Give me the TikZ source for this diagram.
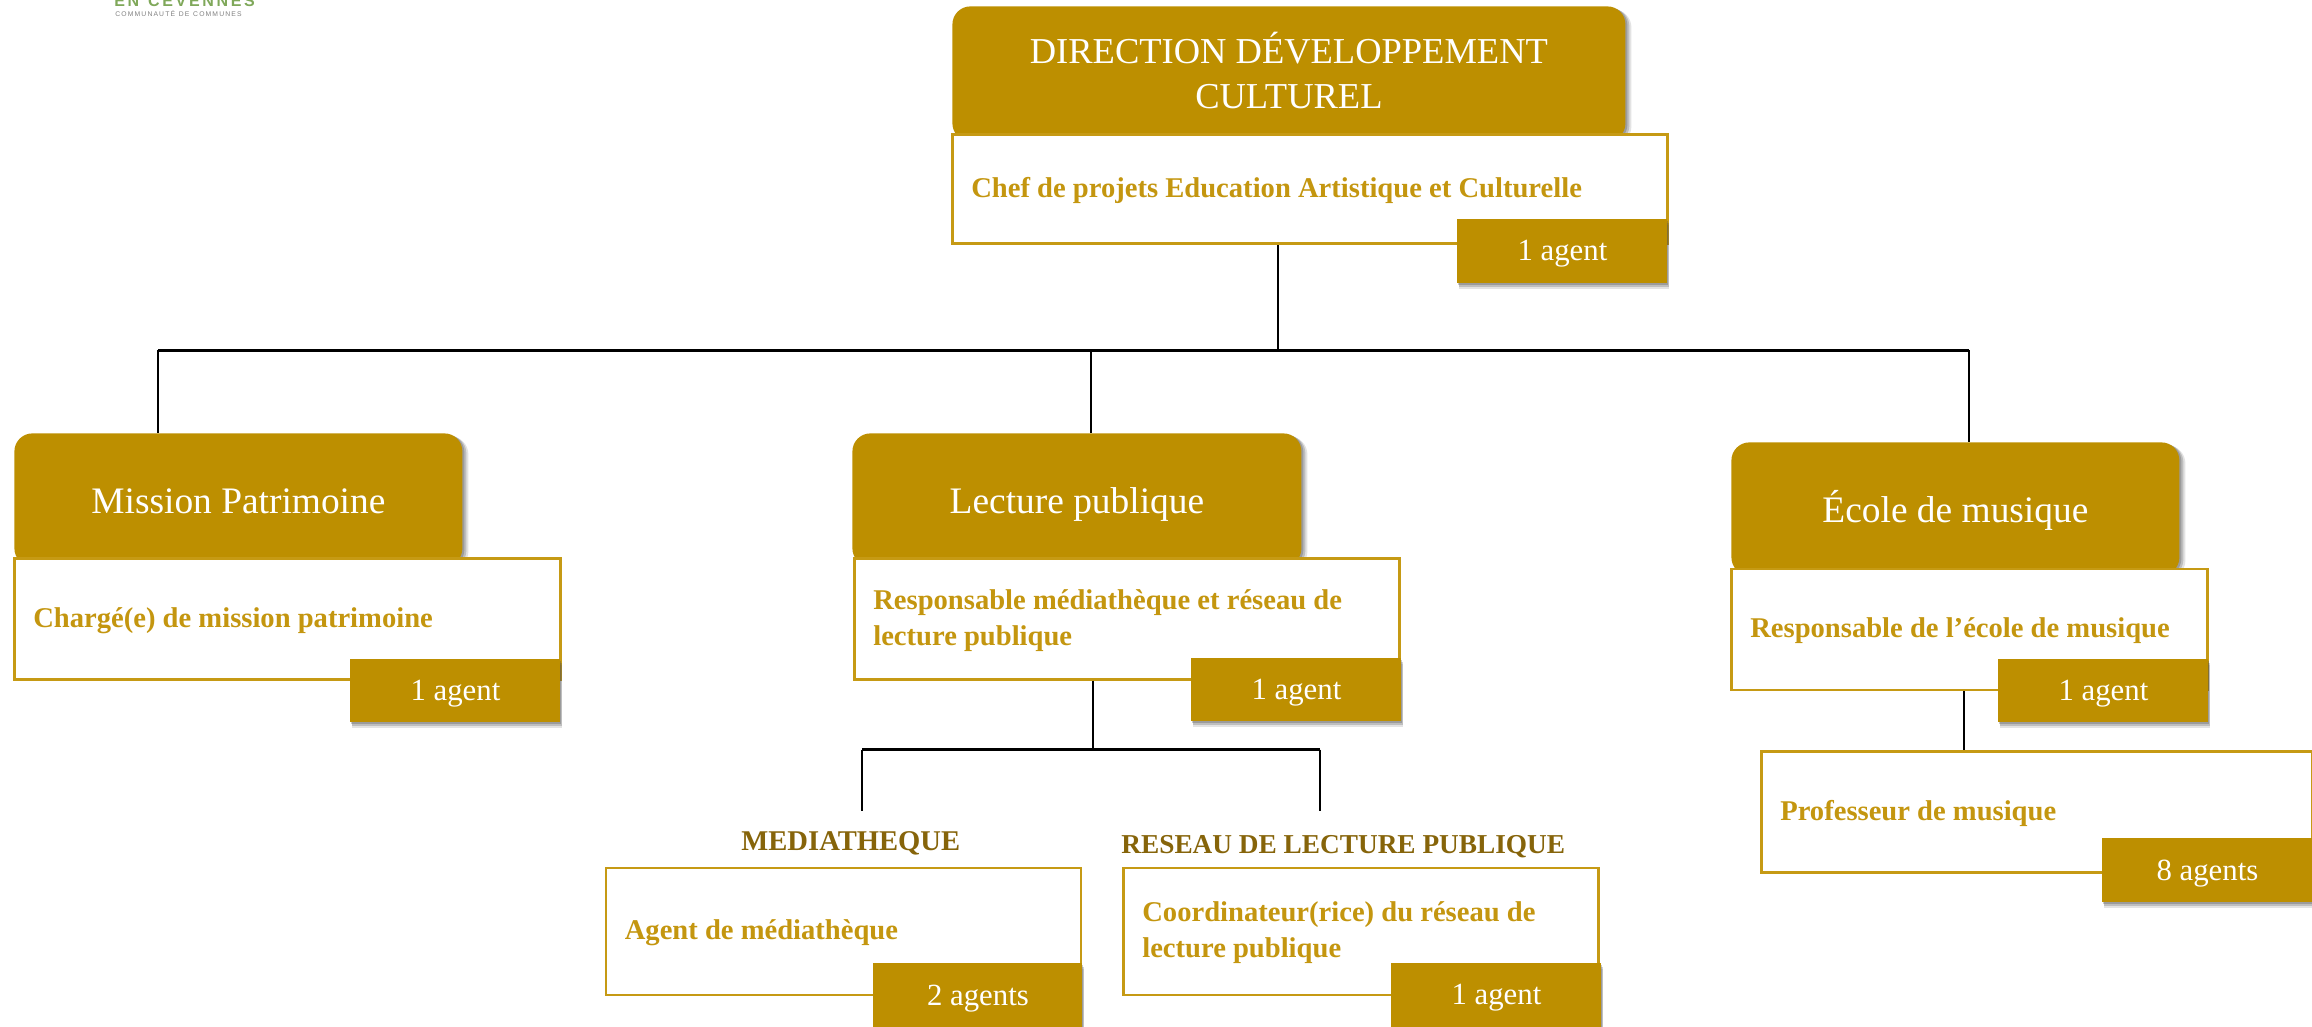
\documentclass[tikz,border=0pt]{standalone}
\usepackage{fontspec}
\setmainfont{Liberation Serif}
\setsansfont{Liberation Sans}
\usetikzlibrary{shadows}
\definecolor{gold}{HTML}{BD8F00}
\definecolor{goldline}{HTML}{C69A14}
\definecolor{goldtext}{HTML}{C4960F}
\definecolor{brownlabel}{HTML}{86640A}
\definecolor{logogreen}{HTML}{7FA85A}
\tikzset{
  headshadow/.style={drop shadow={shadow xshift=3pt,shadow yshift=-1.5pt,fill=black!60,opacity=.18},
                     drop shadow={shadow xshift=2pt,shadow yshift=-1pt,fill=black!70,opacity=.25},
                     drop shadow={shadow xshift=1pt,shadow yshift=-.5pt,fill=black!70,opacity=.3}},
  countshadow/.style={drop shadow={shadow xshift=1pt,shadow yshift=-3pt,fill=black!60,opacity=.18},
                     drop shadow={shadow xshift=.7pt,shadow yshift=-2pt,fill=black!70,opacity=.25},
                     drop shadow={shadow xshift=.4pt,shadow yshift=-1pt,fill=black!70,opacity=.3}},
  headbox/.style={anchor=north west,fill=gold,rounded corners=9pt,text=white,align=center,inner sep=0pt,headshadow,
     font=\fontsize{18.7}{22.5}\selectfont,text height=16.5pt,text depth=3pt},
  rolebox/.style 2 args={anchor=north west,fill=white,draw=goldline,line width=1.3pt,text=goldtext,align=flush left,inner xsep=9.5pt,inner ysep=0pt,
     minimum width=#1pt,minimum height=#2pt,text width=#1pt-19pt,
     font=\bfseries\fontsize{14.3}{18}\selectfont,execute at begin node={\rule{0pt}{11.5pt}}},
  countbox/.style={anchor=north west,fill=gold,text=white,inner sep=0pt,countshadow,font=\fontsize{15.4}{18}\selectfont,text depth=.6pt},
  sectionlabel/.style={anchor=base west,text=brownlabel,inner sep=0pt,font=\bfseries\fontsize{14.3}{18}\selectfont},
  link/.style={draw=black,line width=1.25pt},
  bus/.style={draw=black,line width=1.5pt}
}
\begin{document}
\begin{tikzpicture}[x=0.5pt,y=-0.5pt]
\useasboundingbox (0,0) rectangle (2312,1027);
% logo fragment
\node[anchor=base west,inner sep=0pt,text=logogreen,font=\sffamily\bfseries\fontsize{8}{8}\selectfont] (logoA) at (114,7) {E\,N\ \ C\,E\,V\,E\,N\,N\,E\,S};
\node[anchor=base west,inner sep=0pt,text=black!50,font=\sffamily\fontsize{3.4}{4}\selectfont] (logoB) at (115,17) {C\,O\,M\,M\,U\,N\,A\,U\,T\,É\ \ D\,E\ \ C\,O\,M\,M\,U\,N\,E\,S};
% junctions
\coordinate (busL) at (158,350);
\coordinate (busM) at (1091,350);
\coordinate (busC) at (1278,350);
\coordinate (busR) at (1969,350);
\coordinate (subC) at (1093,749.5);
\coordinate (subL) at (862,749.5);
\coordinate (subR) at (1320,749.5);
\coordinate (dropL) at (862,811);
\coordinate (dropR) at (1320,811);
\coordinate (musA) at (1964,690);
% heads
\node[headbox,minimum width=336.5pt,minimum height=67.5pt,text height=,text depth=4pt,font=\fontsize{18.25}{22.5}\selectfont] (hDir) at (952,6) {DIRECTION DÉVELOPPEMENT\\CULTUREL};
\node[headbox,minimum width=224pt,minimum height=66.5pt] (hPat) at (14,433) {Mission Patrimoine};
\node[headbox,minimum width=224.5pt,minimum height=66.5pt] (hLec) at (852,433) {Lecture publique};
\node[headbox,minimum width=224pt,minimum height=66.5pt] (hMus) at (1731,442) {École de musique};
% connectors
\draw[link] (busL) -- (busL |- hPat.north);
\draw[link] (busM) -- (busM |- hLec.north);
\draw[link] (busR) -- (busR |- hMus.north);
\draw[bus] (busL) -- (busR);
\draw[bus] (subL) -- (subR);
\draw[link] (subL) -- (dropL);
\draw[link] (subR) -- (dropR);
% role boxes
\node[rolebox={357.5}{54.5}] (rChef) at (951,133.5) {Chef de projets Education Artistique et Culturelle};
\node[rolebox={273}{60.5}] (rPat) at (13,557) {Chargé(e) de mission patrimoine};
\node[rolebox={272.5}{60.5}] (rLec) at (853,557) {Responsable médiathèque et réseau de\\lecture publique};
\node[rolebox={238}{60.5}] (rMus) at (1730,567.5) {Responsable de l’école de musique};
\node[rolebox={275.5}{60.5}] (rProf) at (1760,750) {Professeur de musique};
\node[rolebox={237.5}{63.5}] (rMed) at (604.5,866.5) {Agent de médiathèque};
\node[rolebox={237.5}{63.5}] (rRes) at (1122,866.5) {Coordinateur(rice) du réseau de\\lecture publique};
% connectors from role boxes
\draw[link] (busC |- rChef.south) -- (busC);
\draw[link] (subC |- rLec.south) -- (subC);
\draw[link] (musA |- rMus.south) -- (musA |- rProf.north);
% counts
\node[countbox,minimum width=105pt,minimum height=32pt] (cChef) at (1457,219) {1 agent};
\node[countbox,minimum width=105pt,minimum height=31.5pt] (cPat) at (350,659) {1 agent};
\node[countbox,minimum width=105pt,minimum height=31.5pt] (cLec) at (1191,658) {1 agent};
\node[countbox,minimum width=105pt,minimum height=31.5pt] (cMus) at (1998,659) {1 agent};
\node[countbox,minimum width=105pt,minimum height=32pt] (cProf) at (2102,838) {8 agents};
\node[countbox,minimum width=104.5pt,minimum height=32pt] (cMed) at (873,963) {2 agents};
\node[countbox,minimum width=105pt,minimum height=32pt] (cRes) at (1391,963) {1 agent};
% section labels
\node[sectionlabel] (lMed) at (741,850) {MEDIATHEQUE};
\node[sectionlabel,font=\bfseries\fontsize{13.65}{18}\selectfont] (lRes) at (1121,853) {RESEAU DE LECTURE PUBLIQUE};
\end{tikzpicture}
\end{document}
